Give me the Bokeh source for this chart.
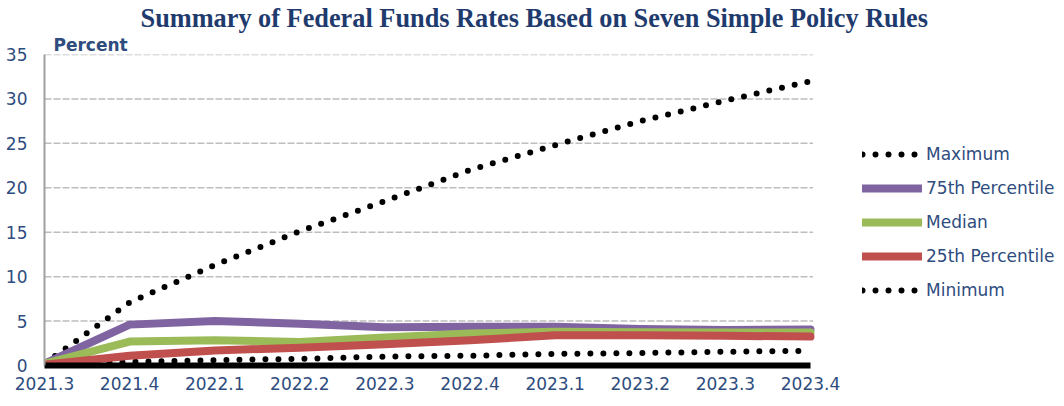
from bokeh.plotting import figure
from bokeh.models import Range1d, Legend, LegendItem, Title, FixedTicker
from bokeh.embed import file_html
from bokeh.resources import INLINE

quarters = ["2021.3", "2021.4", "2022.1", "2022.2", "2022.3",
            "2022.4", "2023.1", "2023.2", "2023.3", "2023.4"]
maximum = [0.2, 7.1, 11.3, 15.1, 18.5, 22.0, 24.8, 27.5, 29.8, 32.0]
p75 = [0.2, 4.6, 5.0, 4.7, 4.3, 4.35, 4.35, 4.1, 4.0, 4.05]
median = [0.2, 2.7, 2.85, 2.65, 3.15, 3.6, 3.8, 3.75, 3.7, 3.7]
p25 = [0.1, 1.1, 1.7, 2.0, 2.4, 2.85, 3.4, 3.4, 3.35, 3.25]
minimum = [0.1, 0.4, 0.6, 0.75, 1.0, 1.1, 1.3, 1.4, 1.55, 1.65]
yticks = [0, 5, 10, 15, 20, 25, 30, 35]

x = list(range(len(quarters)))
n = len(quarters) - 1

W, H = 1064, 406
LEFT, TOP, BOTTOM = 44, 54, 41
plot_w = 766                       # pixel width of the 0..9 data area
frame_w = W - LEFT
x_end = n * frame_w / plot_w       # frame extends right to hold the legend

NAVY = "#2E4C7E"
p = figure(width=W, height=H, output_backend="svg", toolbar_location=None,
           x_range=Range1d(0, x_end), y_range=Range1d(0, 35),
           min_border_left=LEFT, min_border_right=0, min_border_top=TOP,
           min_border_bottom=BOTTOM, title=None)
p.outline_line_color = None
p.background_fill_color = "white"

p.xaxis.ticker = FixedTicker(ticks=x)
p.xaxis.major_label_overrides = {i: q for i, q in enumerate(quarters)}
p.xaxis.bounds = (0, n)
p.yaxis.ticker = FixedTicker(ticks=yticks)
for ax in (p.xaxis[0], p.yaxis[0]):
    ax.major_tick_line_color = None
    ax.minor_tick_line_color = None
    ax.major_tick_out = 0
    ax.major_tick_in = 0
    ax.minor_tick_out = 0
    ax.major_label_text_font = "DejaVu Sans"
    ax.major_label_text_font_size = "17px"
    ax.major_label_text_color = NAVY
p.xaxis.axis_line_color = "black"
p.xaxis.axis_line_width = 6
p.xaxis.major_label_standoff = 11
p.yaxis.axis_line_color = "#A0A0A0"
p.yaxis.axis_line_width = 2
p.yaxis.major_label_standoff = 17

p.xgrid.grid_line_color = None
p.ygrid.grid_line_color = None
grid_y = yticks[1:]
p.segment(x0=[0] * len(grid_y), x1=[n + 0.03] * len(grid_y), y0=grid_y, y1=grid_y,
          line_color="#BDBDBD", line_dash="7 2", line_width=1.5)

r_max = p.line(x, maximum, line_color="black", line_width=6, line_dash="0 13", line_cap="round")
r_min = p.line(x, minimum, line_color="black", line_width=6, line_dash="0 13", line_cap="round")
r_75 = p.line(x, p75, line_color="#8064A2", line_width=8, line_cap="round", line_join="round")
r_med = p.line(x, median, line_color="#9BBB59", line_width=8, line_cap="round", line_join="round")
r_25 = p.line(x, p25, line_color="#C0504D", line_width=8, line_cap="round", line_join="round")

legend = Legend(items=[
    LegendItem(label="Maximum", renderers=[r_max]),
    LegendItem(label="75th Percentile", renderers=[r_75]),
    LegendItem(label="Median", renderers=[r_med]),
    LegendItem(label="25th Percentile", renderers=[r_25]),
    LegendItem(label="Minimum", renderers=[r_min]),
], location=(818, 65))
legend.border_line_color = None
legend.background_fill_alpha = 0
legend.padding = 0
legend.margin = 0
legend.spacing = 14
legend.glyph_width = 60
legend.glyph_height = 20
legend.label_height = 20
legend.label_standoff = 4
legend.label_text_font = "DejaVu Sans"
legend.label_text_font_size = "17px"
legend.label_text_color = NAVY
p.add_layout(legend, "center")

# titles: first added sits closest to the frame
p.add_layout(Title(text="Percent", text_font="DejaVu Sans", text_font_style="bold",
                   text_font_size="17px", text_color=NAVY, align="left",
                   offset=9, standoff=0), "above")
p.add_layout(Title(text="Summary of Federal Funds Rates Based on Seven Simple Policy Rules",
                   text_font="Liberation Serif", text_font_style="bold",
                   text_font_size="26.3px", text_color="#1F3B6E", align="left",
                   offset=96, standoff=0), "above")

open("out.html", "w").write(file_html(p, INLINE))
